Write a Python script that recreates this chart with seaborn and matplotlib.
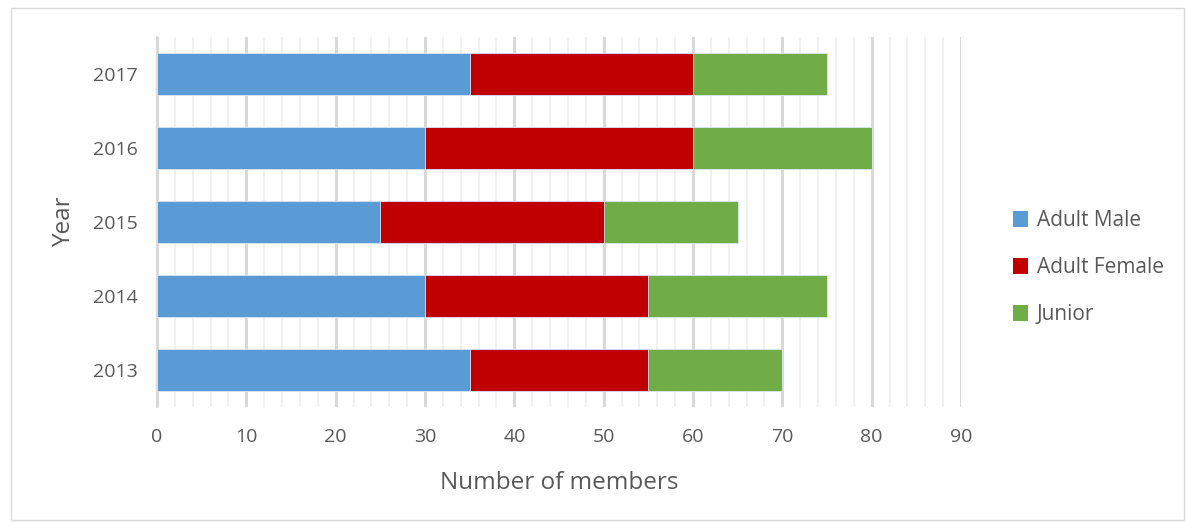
import matplotlib
matplotlib.use("Agg")
import matplotlib.pyplot as plt
import seaborn as sns
import pandas as pd
import numpy as np
from matplotlib.patches import Patch, Rectangle
from matplotlib.ticker import MultipleLocator

years = ["2013", "2014", "2015", "2016", "2017"]
adult_male = [35, 30, 25, 30, 35]
adult_female = [20, 25, 25, 30, 25]
junior = [15, 20, 15, 20, 15]
series_names = ["Adult Male", "Adult Female", "Junior"]
colors = ["#5B9BD5", "#C00000", "#70AD47"]
xticks = [0, 10, 20, 30, 40, 50, 60, 70, 80, 90]

sns.set_theme(style="white")
plt.rcParams["font.family"] = ["Open Sans", "DejaVu Sans"]
txt = "#595959"

df = pd.DataFrame({"Year": years, "Adult Male": adult_male,
                   "Adult Female": adult_female, "Junior": junior})
df["c1"] = df["Adult Male"]
df["c2"] = df["c1"] + df["Adult Female"]
df["c3"] = df["c2"] + df["Junior"]

fig = plt.figure(figsize=(11.86, 5.22), dpi=100)
ax = fig.add_axes([0.1324, 0.2203, 0.8103 - 0.1324, 0.9291 - 0.2203])
order = years[::-1]
for col, c in zip(["c3", "c2", "c1"], colors[::-1]):
    sns.barplot(data=df, x=col, y="Year", order=order, color=c, orient="h",
                width=0.58, edgecolor="#dce8f4", linewidth=0.6, ax=ax, zorder=3,
                saturation=1)

ax.set_xlim(0, 90)
ax.set_ylim(4.5, -0.5)
ax.xaxis.set_major_locator(MultipleLocator(10))
ax.xaxis.set_minor_locator(MultipleLocator(2))
ax.set_xticks(xticks)
ax.grid(axis="x", which="major", color="#d9d9d9", linewidth=2.2, zorder=0)
ax.grid(axis="x", which="minor", color="#efefef", linewidth=1.2, zorder=0)
ax.grid(axis="y", visible=False)
ax.set_axisbelow(True)
for s in ["top", "right", "bottom"]:
    ax.spines[s].set_visible(False)
ax.spines["left"].set_color("#d9d9d9")
ax.spines["left"].set_linewidth(1.5)
ax.tick_params(axis="both", which="both", length=0, labelsize=14, labelcolor=txt)
ax.tick_params(axis="x", pad=15)
ax.tick_params(axis="y", pad=14)
ax.set_xlabel("Number of members", fontsize=17.5, color=txt, labelpad=18)
ax.set_ylabel("Year", fontsize=17.5, color=txt, labelpad=12)

handles = [Patch(facecolor=c, edgecolor="none") for c in colors]
fig.legend(handles, series_names, loc="center left", bbox_to_anchor=(0.838, 0.487),
           frameon=False, fontsize=15, labelcolor=txt, handlelength=0.75,
           handleheight=0.75, handletextpad=0.4, labelspacing=1.25)

fig.patches.append(Rectangle((0.009, 0.004), 0.989, 0.98, transform=fig.transFigure,
                             fill=False, edgecolor="#d9d9d9", linewidth=1))
fig.savefig("out.png", dpi=100)
